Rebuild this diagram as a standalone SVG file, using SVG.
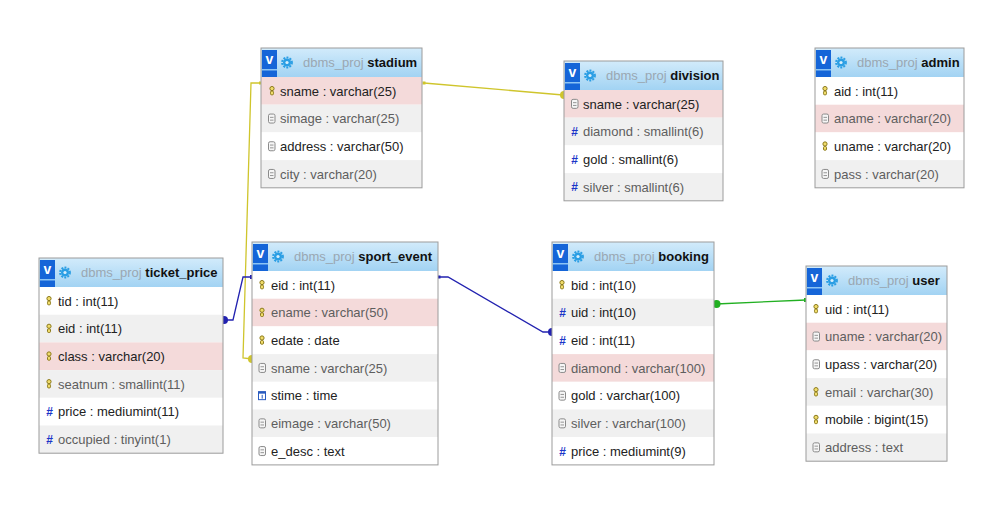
<svg xmlns="http://www.w3.org/2000/svg" xmlns:xlink="http://www.w3.org/1999/xlink" width="1004" height="520" viewBox="0 0 1004 520">
  <style>
    text { font-family: "Liberation Sans", Arial, sans-serif; font-size: 13px; }
    .f { fill: #222; }
    .fg { fill: #5e5e5e; }
    .db { fill: #9aa7b2; }
    .tn { fill: #111; font-weight: bold; }
    .vt { fill: #fff; font-weight: bold; font-size: 14px; text-anchor: middle; }
    .num { fill: #1b35c8; font-weight: bold; font-size: 12px; text-anchor: middle; }
    .hdr { fill: url(#hdrGrad); }
    .rw { fill: #ffffff; }
    .rg { fill: #f0f0f0; }
    .rp { fill: #f4dada; }
    .frame { fill: none; stroke: #9c9c9c; stroke-width: 1; }
    .vbox { fill: #1565d8; }
    .vbar { fill: #8cc4f4; }
    .conn { fill: none; stroke-width: 1.3; }
    .yel { stroke: #cfc52c; }
    .blu { stroke: #2222b0; }
    .grn { stroke: #22b022; }
  </style>
  <defs>
    <linearGradient id="hdrGrad" x1="0" y1="0" x2="0" y2="1">
      <stop offset="0" stop-color="#d2ebfb"/>
      <stop offset="1" stop-color="#a2d3f3"/>
    </linearGradient>
    <!-- primary / indexed key -->
    <g id="ico-key">
      <circle cx="0" cy="-2.3" r="2.1" fill="#f0dc6a" stroke="#8c7a1c" stroke-width="1"/>
      <rect x="-1.5" y="0.2" width="3" height="3.8" rx="1.2" fill="#f0dc6a" stroke="#8c7a1c" stroke-width="1"/>
    </g>
    <!-- plain column -->
    <g id="ico-col">
      <rect x="-3" y="-4.5" width="6.5" height="9" rx="1.6" fill="#f6f6f6" stroke="#8a8a8a" stroke-width="1"/>
      <line x1="-1.5" y1="-1.2" x2="2" y2="-1.2" stroke="#8a8a8a" stroke-width="0.9"/>
      <line x1="-1.5" y1="1.6" x2="2" y2="1.6" stroke="#8a8a8a" stroke-width="0.9"/>
    </g>
    <!-- time column -->
    <g id="ico-time">
      <rect x="-3.5" y="-4" width="7" height="8" fill="#fff" stroke="#2a5bbf" stroke-width="1"/>
      <rect x="-3.5" y="-4" width="7" height="2" fill="#2a5bbf"/>
      <line x1="0.2" y1="-0.8" x2="0.2" y2="3" stroke="#2a5bbf" stroke-width="1"/>
    </g>
    <!-- table header icons -->
    <g id="hdr-icons">
      <rect class="vbox" x="1" y="2" width="15" height="27"/>
      <rect class="vbar" x="1" y="21" width="15" height="1.5"/>
      <text class="vt" x="8.5" y="16">v</text>
      <circle cx="26" cy="14.5" r="5" fill="none" stroke="#2a9ee4" stroke-width="1.8" stroke-dasharray="2 1.2"/>
      <circle cx="26" cy="14.5" r="4" fill="#2a9ee4"/>
      <circle cx="26" cy="14.5" r="1.6" fill="#d8eefc"/>
    </g>
  </defs>

  <rect x="0" y="0" width="1004" height="520" fill="#ffffff"/>

  <!-- relations -->
  <g id="connectors">
    <polyline class="conn yel" points="424,83 563,95"/>
    <rect x="422.5" y="81.5" width="3" height="3" fill="#cfc52c"/>
    <circle cx="564" cy="95" r="4" fill="#cfc52c"/>

    <polyline class="conn yel" points="261,83 251,83 243,358 252,359"/>
    <rect x="259" y="81.5" width="3" height="3" fill="#cfc52c"/>
    <circle cx="252" cy="359" r="4" fill="#cfc52c"/>

    <polyline class="conn blu" points="225,320 233,320 243,277 252,277"/>
    <circle cx="224" cy="320" r="4" fill="#2222b0"/>
    <rect x="250" y="275" width="2" height="4" fill="#2222b0"/>

    <polyline class="conn blu" points="439,277 448,277 543,332 551,332"/>
    <rect x="437.5" y="275.5" width="3" height="3" fill="#2222b0"/>
    <circle cx="552" cy="332" r="4" fill="#2222b0"/>

    <polyline class="conn grn" points="716,304 806,300"/>
    <circle cx="716.5" cy="304" r="4" fill="#22b022"/>
    <rect x="804" y="298" width="2" height="4" fill="#22b022"/>
  </g>

  <!-- stadium -->
  <g id="tbl-stadium" transform="translate(261,48)">
    <rect class="hdr" x="0" y="0" width="161" height="29"/>
    <use xlink:href="#hdr-icons"/>
    <text x="42" y="18.7"><tspan class="db">dbms_proj </tspan><tspan class="tn">stadium</tspan></text>
    <rect class="rp" x="0" y="29" width="161" height="27.7"/>
    <rect class="rg" x="0" y="56.7" width="161" height="27.7"/>
    <rect class="rw" x="0" y="84.4" width="161" height="27.7"/>
    <rect class="rg" x="0" y="112.1" width="161" height="27.7"/>
    <use xlink:href="#ico-key" x="11" y="42.85"/>
    <use xlink:href="#ico-col" x="10.5" y="70.55"/>
    <use xlink:href="#ico-col" x="10.5" y="98.25"/>
    <use xlink:href="#ico-col" x="10.5" y="125.95"/>
    <text class="f" x="19" y="47.6">sname : varchar(25)</text>
    <text class="fg" x="19" y="75.3">simage : varchar(25)</text>
    <text class="f" x="19" y="103">address : varchar(50)</text>
    <text class="fg" x="19" y="130.7">city : varchar(20)</text>
    <rect class="frame" x="0" y="0" width="161" height="139.8"/>
  </g>

  <!-- division -->
  <g id="tbl-division" transform="translate(564,61)">
    <rect class="hdr" x="0" y="0" width="159" height="29"/>
    <use xlink:href="#hdr-icons"/>
    <text x="42" y="18.7"><tspan class="db">dbms_proj </tspan><tspan class="tn">division</tspan></text>
    <rect class="rp" x="0" y="29" width="159" height="27.7"/>
    <rect class="rg" x="0" y="56.7" width="159" height="27.7"/>
    <rect class="rw" x="0" y="84.4" width="159" height="27.7"/>
    <rect class="rg" x="0" y="112.1" width="159" height="27.7"/>
    <use xlink:href="#ico-col" x="10.5" y="42.85"/>
    <text class="num" x="10.5" y="75">#</text>
    <text class="num" x="10.5" y="102.7">#</text>
    <text class="num" x="10.5" y="130.4">#</text>
    <text class="f" x="19" y="47.6">sname : varchar(25)</text>
    <text class="fg" x="19" y="75.3">diamond : smallint(6)</text>
    <text class="f" x="19" y="103">gold : smallint(6)</text>
    <text class="fg" x="19" y="130.7">silver : smallint(6)</text>
    <rect class="frame" x="0" y="0" width="159" height="139.8"/>
  </g>

  <!-- admin -->
  <g id="tbl-admin" transform="translate(815,48)">
    <rect class="hdr" x="0" y="0" width="149" height="29"/>
    <use xlink:href="#hdr-icons"/>
    <text x="42" y="18.7"><tspan class="db">dbms_proj </tspan><tspan class="tn">admin</tspan></text>
    <rect class="rw" x="0" y="29" width="149" height="27.7"/>
    <rect class="rp" x="0" y="56.7" width="149" height="27.7"/>
    <rect class="rw" x="0" y="84.4" width="149" height="27.7"/>
    <rect class="rg" x="0" y="112.1" width="149" height="27.7"/>
    <use xlink:href="#ico-key" x="10" y="42.85"/>
    <use xlink:href="#ico-col" x="10" y="70.55"/>
    <use xlink:href="#ico-key" x="10" y="98.25"/>
    <use xlink:href="#ico-col" x="10" y="125.95"/>
    <text class="f" x="19" y="47.6">aid : int(11)</text>
    <text class="fg" x="19" y="75.3">aname : varchar(20)</text>
    <text class="f" x="19" y="103">uname : varchar(20)</text>
    <text class="fg" x="19" y="130.7">pass : varchar(20)</text>
    <rect class="frame" x="0" y="0" width="149" height="139.8"/>
  </g>

  <!-- ticket_price -->
  <g id="tbl-ticket_price" transform="translate(39,258)">
    <rect class="hdr" x="0" y="0" width="184" height="29"/>
    <use xlink:href="#hdr-icons"/>
    <text x="42" y="18.7"><tspan class="db">dbms_proj </tspan><tspan class="tn">ticket_price</tspan></text>
    <rect class="rw" x="0" y="29" width="184" height="27.7"/>
    <rect class="rg" x="0" y="56.7" width="184" height="27.7"/>
    <rect class="rp" x="0" y="84.4" width="184" height="27.7"/>
    <rect class="rg" x="0" y="112.1" width="184" height="27.7"/>
    <rect class="rw" x="0" y="139.8" width="184" height="27.7"/>
    <rect class="rg" x="0" y="167.5" width="184" height="27.7"/>
    <use xlink:href="#ico-key" x="10" y="42.85"/>
    <use xlink:href="#ico-key" x="10" y="70.55"/>
    <use xlink:href="#ico-key" x="10" y="98.25"/>
    <use xlink:href="#ico-key" x="10" y="125.95"/>
    <text class="num" x="10.5" y="158.1">#</text>
    <text class="num" x="10.5" y="185.8">#</text>
    <text class="f" x="19" y="47.6">tid : int(11)</text>
    <text class="f" x="19" y="75.3">eid : int(11)</text>
    <text class="f" x="19" y="103">class : varchar(20)</text>
    <text class="fg" x="19" y="130.7">seatnum : smallint(11)</text>
    <text class="f" x="19" y="158.4">price : mediumint(11)</text>
    <text class="fg" x="19" y="186.1">occupied : tinyint(1)</text>
    <rect class="frame" x="0" y="0" width="184" height="195.2"/>
  </g>

  <!-- sport_event -->
  <g id="tbl-sport_event" transform="translate(252,242)">
    <rect class="hdr" x="0" y="0" width="186" height="29"/>
    <use xlink:href="#hdr-icons"/>
    <text x="42" y="18.7"><tspan class="db">dbms_proj </tspan><tspan class="tn">sport_event</tspan></text>
    <rect class="rw" x="0" y="29" width="186" height="27.7"/>
    <rect class="rp" x="0" y="56.7" width="186" height="27.7"/>
    <rect class="rw" x="0" y="84.4" width="186" height="27.7"/>
    <rect class="rg" x="0" y="112.1" width="186" height="27.7"/>
    <rect class="rw" x="0" y="139.8" width="186" height="27.7"/>
    <rect class="rg" x="0" y="167.5" width="186" height="27.7"/>
    <rect class="rw" x="0" y="195.2" width="186" height="27.7"/>
    <use xlink:href="#ico-key" x="10" y="42.85"/>
    <use xlink:href="#ico-key" x="10" y="70.55"/>
    <use xlink:href="#ico-key" x="10" y="98.25"/>
    <use xlink:href="#ico-col" x="10" y="125.95"/>
    <use xlink:href="#ico-time" x="10" y="153.65"/>
    <use xlink:href="#ico-col" x="10" y="181.35"/>
    <use xlink:href="#ico-col" x="10" y="209.05"/>
    <text class="f" x="19" y="47.6">eid : int(11)</text>
    <text class="fg" x="19" y="75.3">ename : varchar(50)</text>
    <text class="f" x="19" y="103">edate : date</text>
    <text class="fg" x="19" y="130.7">sname : varchar(25)</text>
    <text class="f" x="19" y="158.4">stime : time</text>
    <text class="fg" x="19" y="186.1">eimage : varchar(50)</text>
    <text class="f" x="19" y="213.8">e_desc : text</text>
    <rect class="frame" x="0" y="0" width="186" height="222.9"/>
  </g>

  <!-- booking -->
  <g id="tbl-booking" transform="translate(552,242)">
    <rect class="hdr" x="0" y="0" width="162" height="29"/>
    <use xlink:href="#hdr-icons"/>
    <text x="42" y="18.7"><tspan class="db">dbms_proj </tspan><tspan class="tn">booking</tspan></text>
    <rect class="rw" x="0" y="29" width="162" height="27.7"/>
    <rect class="rg" x="0" y="56.7" width="162" height="27.7"/>
    <rect class="rw" x="0" y="84.4" width="162" height="27.7"/>
    <rect class="rp" x="0" y="112.1" width="162" height="27.7"/>
    <rect class="rw" x="0" y="139.8" width="162" height="27.7"/>
    <rect class="rg" x="0" y="167.5" width="162" height="27.7"/>
    <rect class="rw" x="0" y="195.2" width="162" height="27.7"/>
    <use xlink:href="#ico-key" x="10" y="42.85"/>
    <text class="num" x="10.5" y="75">#</text>
    <text class="num" x="10.5" y="102.7">#</text>
    <use xlink:href="#ico-col" x="10" y="125.95"/>
    <use xlink:href="#ico-col" x="10" y="153.65"/>
    <use xlink:href="#ico-col" x="10" y="181.35"/>
    <text class="num" x="10.5" y="213.5">#</text>
    <text class="f" x="19" y="47.6">bid : int(10)</text>
    <text class="f" x="19" y="75.3">uid : int(10)</text>
    <text class="f" x="19" y="103">eid : int(11)</text>
    <text class="fg" x="19" y="130.7">diamond : varchar(100)</text>
    <text class="f" x="19" y="158.4">gold : varchar(100)</text>
    <text class="fg" x="19" y="186.1">silver : varchar(100)</text>
    <text class="f" x="19" y="213.8">price : mediumint(9)</text>
    <rect class="frame" x="0" y="0" width="162" height="222.9"/>
  </g>

  <!-- user -->
  <g id="tbl-user" transform="translate(806,266)">
    <rect class="hdr" x="0" y="0" width="141" height="29"/>
    <use xlink:href="#hdr-icons"/>
    <text x="42" y="18.7"><tspan class="db">dbms_proj </tspan><tspan class="tn">user</tspan></text>
    <rect class="rw" x="0" y="29" width="141" height="27.7"/>
    <rect class="rp" x="0" y="56.7" width="141" height="27.7"/>
    <rect class="rw" x="0" y="84.4" width="141" height="27.7"/>
    <rect class="rg" x="0" y="112.1" width="141" height="27.7"/>
    <rect class="rw" x="0" y="139.8" width="141" height="27.7"/>
    <rect class="rg" x="0" y="167.5" width="141" height="27.7"/>
    <use xlink:href="#ico-key" x="10" y="42.85"/>
    <use xlink:href="#ico-col" x="10" y="70.55"/>
    <use xlink:href="#ico-col" x="10" y="98.25"/>
    <use xlink:href="#ico-key" x="10" y="125.95"/>
    <use xlink:href="#ico-key" x="10" y="153.65"/>
    <use xlink:href="#ico-col" x="10" y="181.35"/>
    <text class="f" x="19" y="47.6">uid : int(11)</text>
    <text class="fg" x="19" y="75.3">uname : varchar(20)</text>
    <text class="f" x="19" y="103">upass : varchar(20)</text>
    <text class="fg" x="19" y="130.7">email : varchar(30)</text>
    <text class="f" x="19" y="158.4">mobile : bigint(15)</text>
    <text class="fg" x="19" y="186.1">address : text</text>
    <rect class="frame" x="0" y="0" width="141" height="195.2"/>
  </g>
</svg>
